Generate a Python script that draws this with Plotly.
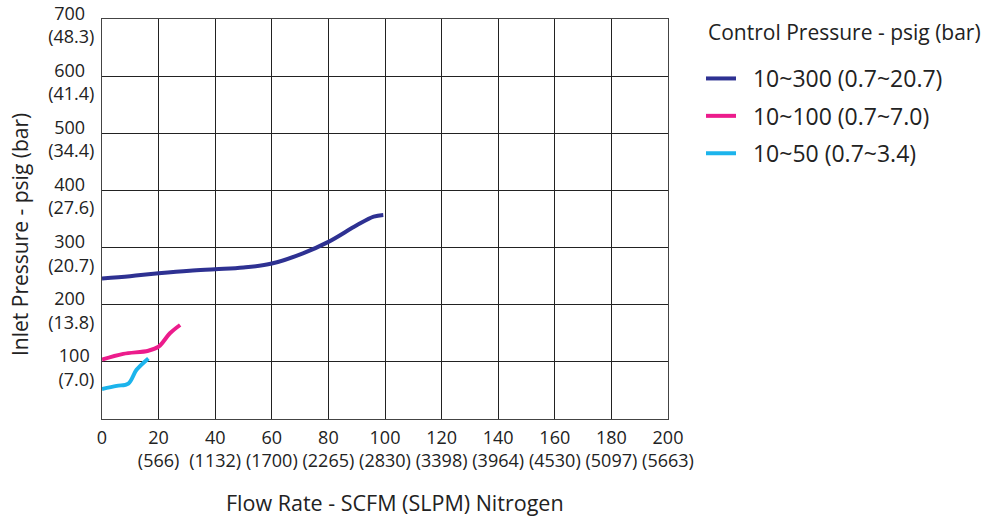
import plotly.graph_objects as go

# Data
x_300 = [0, 9.9, 20, 31, 40, 50, 60, 71, 80, 90, 96, 99.4]
y_300 = [246, 250, 255, 259.5, 262, 265, 272, 290, 310, 339, 354, 357]

x_100 = [0, 7.5, 16.4, 20, 24, 27.6]
y_100 = [104, 114, 119.5, 126.5, 150, 164.5]

x_50 = [0, 5.2, 9.3, 12.2, 16.4]
y_50 = [52.5, 58, 62, 86, 106]

x_tickvals = [0, 20, 40, 60, 80, 100, 120, 140, 160, 180, 200]
x_ticktext = ["0", "20<br>(566)", "40<br>(1132)", "60<br>(1700)", "80<br>(2265)",
              "100<br>(2830)", "120<br>(3398)", "140<br>(3964)", "160<br>(4530)",
              "180<br>(5097)", "200<br>(5663)"]
y_tickvals = [100, 200, 300, 400, 500, 600, 700]
y_ticktext = ["100&nbsp;<br>(7.0)", "200&nbsp;&nbsp;<br>(13.8)", "300&nbsp;&nbsp;<br>(20.7)",
              "400&nbsp;&nbsp;<br>(27.6)", "500&nbsp;&nbsp;<br>(34.4)", "600&nbsp;&nbsp;<br>(41.4)",
              "700&nbsp;&nbsp;<br>(48.3)"]

legend_title = "Control Pressure - psig (bar)"
series = [
    ("10~300 (0.7~20.7)", x_300, y_300, "#2e3192"),
    ("10~100 (0.7~7.0)", x_100, y_100, "#ec1c8c"),
    ("10~50 (0.7~3.4)", x_50, y_50, "#1cb4ec"),
]

font = "Open Sans"
fig = go.Figure()
for name, xs, ys, c in series:
    fig.add_trace(go.Scatter(x=xs, y=ys, name="&nbsp;&nbsp;" + name, mode="lines",
                             legendgroup=name,
                             line=dict(color=c, width=4, shape="spline")))

L, R, T, B = 102, 321, 19, 97
pw, ph = 989 - L - R, 516 - T - B

def px_x(p):
    return (p - L) / pw

def px_y(p):
    return (T + ph - p) / ph

fig.update_layout(
    width=989, height=516,
    margin=dict(l=L, r=R, t=T, b=B, autoexpand=False),
    plot_bgcolor="white", paper_bgcolor="white",
    font=dict(family=font, size=18, color="#222"),
    legend=dict(x=px_x(701), y=px_y(57), xanchor="left", yanchor="top",
                font=dict(size=23), tracegroupgap=4.5, itemwidth=30),
    showlegend=True,
    annotations=[
        dict(text=legend_title, xref="paper", yref="paper",
             x=px_x(706), y=px_y(32), xanchor="left", yanchor="middle",
             showarrow=False, font=dict(size=21)),
        dict(text="Flow Rate - SCFM (SLPM) Nitrogen", xref="paper", yref="paper",
             x=px_x(395), y=px_y(502), xanchor="center", yanchor="middle",
             showarrow=False, font=dict(size=21.5)),
        dict(text="Inlet Pressure - psig (bar)", xref="paper", yref="paper",
             x=px_x(20), y=px_y(235), xanchor="center", yanchor="middle",
             textangle=-90, showarrow=False, font=dict(size=21)),
    ],
)
fig.update_xaxes(range=[0, 200], tickvals=x_tickvals, ticktext=x_ticktext,
                 showgrid=True, gridcolor="#222", gridwidth=1, automargin=False,
                 showline=True, linecolor="#444", linewidth=1, mirror=True,
                 zeroline=False, ticks="", tickfont=dict(size=18), ticklabelstandoff=2)
fig.update_yaxes(range=[0, 700], tickvals=y_tickvals, ticktext=y_ticktext,
                 showgrid=True, gridcolor="#222", gridwidth=1, automargin=False,
                 showline=True, linecolor="#444", linewidth=1, mirror=True,
                 zeroline=False, ticks="", tickfont=dict(size=18), ticklabelshift=6,
                 ticklabelstandoff=3, ticklabeloverflow="allow")

fig.write_html("out.html", config={"displayModeBar": False},
               post_script="document.body.style.margin='0px';")
